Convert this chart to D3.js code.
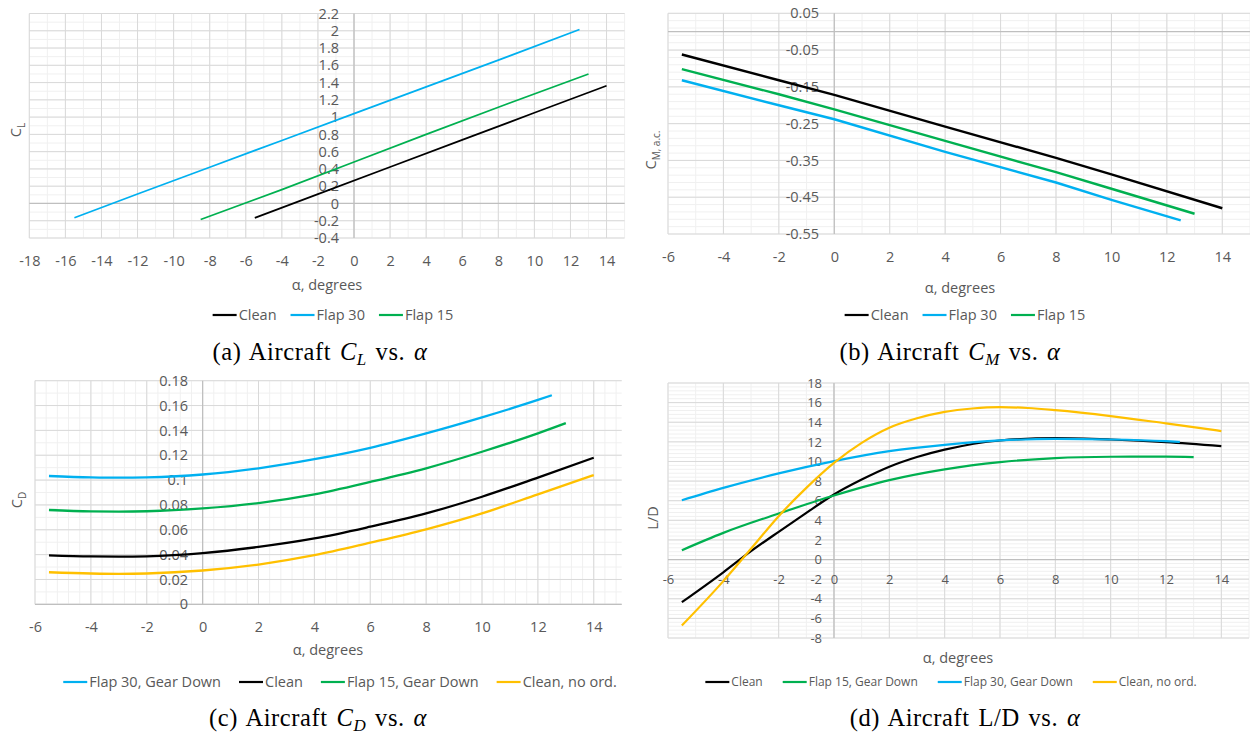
<!DOCTYPE html>
<html>
<head>
<meta charset="utf-8">
<script src="https://cdn.jsdelivr.net/npm/d3@7"></script>
<style>
  body { margin: 0; background: #fff; }
  svg { display: block; }
</style>
</head>
<body>
<svg id="fig" width="1250" height="738"></svg>
<script>
// ---------------- data ----------------
// (a) lift coefficient vs angle of attack
const clAlphaClean = [-5.5, -2, 2, 6, 10, 14];
const clClean      = [-0.167, 0.108, 0.422, 0.736, 1.05, 1.364];
const clAlphaF30   = [-15.5, -12, -8, -4, 0, 4, 8, 12.5];
const clFlap30     = [-0.165, 0.11, 0.42, 0.73, 1.04, 1.35, 1.66, 2.015];
const clAlphaF15   = [-8.5, -4, 0, 4, 8, 13];
const clFlap15     = [-0.185, 0.16, 0.48, 0.80, 1.115, 1.50];

// (b) pitching moment about the aerodynamic centre
const cmAlphaClean = [-5.5, -2, 0, 4, 8, 10, 14];
const cmClean      = [-0.062, -0.132, -0.172, -0.258, -0.343, -0.388, -0.48];
const cmAlphaF30   = [-5.5, -2, 0, 4, 8, 10, 12.5];
const cmFlap30     = [-0.132, -0.2, -0.238, -0.327, -0.41, -0.457, -0.513];
const cmAlphaF15   = [-5.5, -2, 0, 4, 8, 10, 13];
const cmFlap15     = [-0.102, -0.17, -0.211, -0.297, -0.382, -0.427, -0.495];

// (c) drag coefficient
const cdAlphaF30     = [-5.5, -4, -3, -2, 0, 2, 4, 6, 8, 10, 12, 12.5];
const cdFlap30       = [0.1033, 0.1022, 0.1019, 0.1022, 0.1045, 0.1095, 0.1168, 0.126, 0.1376, 0.1505, 0.1645, 0.1683];
const cdAlphaClean   = [-5.5, -4, -3, -2, 0, 2, 4, 6, 8, 10, 12, 14];
const cdClean        = [0.0394, 0.0385, 0.0383, 0.0386, 0.0412, 0.0462, 0.053, 0.0625, 0.0732, 0.0866, 0.102, 0.118];
const cdAlphaF15     = [-5.5, -4, -3, -2, 0, 2, 4, 6, 8, 10, 12, 13];
const cdFlap15       = [0.0759, 0.0748, 0.0746, 0.0749, 0.0772, 0.0815, 0.0885, 0.0985, 0.1095, 0.1228, 0.1376, 0.1458];
const cdAlphaNoOrd   = [-5.5, -4, -3, -2, 0, 2, 4, 6, 8, 10, 12, 14];
const cdCleanNoOrd   = [0.0258, 0.0248, 0.0245, 0.0248, 0.0272, 0.032, 0.0395, 0.0496, 0.0604, 0.0732, 0.0885, 0.104];

// (d) lift-to-drag ratio
const ldAlphaClean = [-5.5, -4, -3, -2, -1, 0, 1, 2, 3, 4, 6, 8, 10, 12, 14];
const ldClean      = [-4.35, -1.3, 0.85, 2.83, 4.76, 6.63, 8.15, 9.46, 10.45, 11.2, 12.14, 12.38, 12.24, 11.97, 11.56];
const ldAlphaF15   = [-5.5, -4, -2, 0, 2, 4, 6, 8, 10, 12, 13];
const ldFlap15     = [0.95, 2.72, 4.69, 6.53, 8.1, 9.2, 9.93, 10.34, 10.48, 10.5, 10.45];
const ldAlphaF30   = [-5.5, -4, -2, 0, 2, 4, 6, 8, 10, 12, 12.5];
const ldFlap30     = [6.05, 7.31, 8.78, 10.03, 11.05, 11.7, 12.14, 12.3, 12.24, 12.07, 12.0];
const ldAlphaNoOrd = [-5.5, -4, -3, -2, -1, 0, 1, 2, 3, 4, 5, 6, 7, 8, 10, 12, 14];
const ldCleanNoOrd = [-6.73, -2.2, 1.1, 4.42, 7.31, 9.86, 11.9, 13.44, 14.4, 15.05, 15.4, 15.54, 15.45, 15.23, 14.63, 13.88, 13.1];

// tick labels
const alphaTicksA = d3.range(-18, 15, 2);
const alphaTicks  = d3.range(-6, 15, 2);
const clTicks     = d3.range(-0.4, 2.21, 0.2);
const cmTicks     = d3.range(-0.55, 0.06, 0.1);
const cdTicks     = d3.range(0, 0.181, 0.02);
const ldTicks     = d3.range(-8, 18.1, 2);

// ---------------- styling ----------------
const COL = { black: "#000000", blue: "#00B0F0", green: "#00B050", gold: "#FFC000" };
const TEXT = "#595959";
const FONT = "'Open Sans', 'Noto Sans', sans-serif";
const SERIF = "'Liberation Serif', 'DejaVu Serif', serif";

const svg = d3.select("#fig");
svg.append("rect").attr("width", 1250).attr("height", 738).attr("fill", "#fff");

const fmt = d => String(+d.toFixed(3));
const pairs = (xs, ys) => xs.map((a, i) => [a, ys[i]]);

function drawPanel(c) {
  const g = svg.append("g");
  const x = d3.scaleLinear().domain(c.xDomain).range([c.left, c.right]);
  const y = d3.scaleLinear().domain(c.yDomain).range([c.bottom, c.top]);

  const vLines = (step, color) => {
    g.append("g").selectAll("line")
      .data(d3.range(c.xDomain[0], c.xDomain[1] + step * 0.01, step))
      .join("line")
      .attr("x1", d => x(d)).attr("x2", d => x(d))
      .attr("y1", c.top).attr("y2", c.bottom)
      .attr("stroke", color).attr("stroke-width", 1);
  };
  const hLines = (step, color) => {
    const n = Math.round((c.yDomain[1] - c.yDomain[0]) / step);
    g.append("g").selectAll("line")
      .data(d3.range(0, n + 1).map(i => c.yDomain[0] + i * step))
      .join("line")
      .attr("x1", c.left).attr("x2", c.right)
      .attr("y1", d => y(d)).attr("y2", d => y(d))
      .attr("stroke", color).attr("stroke-width", 1);
  };
  // minor then major gridlines
  vLines(c.xMinor, "#f0f0f0");
  hLines(c.yMinor, "#f0f0f0");
  vLines(c.xMajor, "#d9d9d9");
  hLines(c.yMajor, "#d9d9d9");

  // axis lines through the origin
  g.append("line").attr("x1", x(0)).attr("x2", x(0)).attr("y1", c.top).attr("y2", c.bottom)
    .attr("stroke", "#bfbfbf").attr("stroke-width", 1.2);
  g.append("line").attr("x1", c.left).attr("x2", c.right).attr("y1", y(0)).attr("y2", y(0))
    .attr("stroke", "#bfbfbf").attr("stroke-width", 1.2);

  // tick labels
  const yAx = g.append("g").attr("transform", `translate(${c.yLabelX},0)`)
    .call(d3.axisLeft(y).tickValues(c.yTicks).tickSize(0).tickPadding(0).tickFormat(fmt));
  const xAx = g.append("g").attr("transform", `translate(0,${c.xLabelY})`)
    .call(d3.axisBottom(x).tickValues(c.xTicks).tickSize(0).tickPadding(0).tickFormat(fmt));
  [yAx, xAx].forEach(a => {
    a.select(".domain").remove();
    a.selectAll("text").attr("fill", TEXT).style("font-family", FONT)
      .style("font-size", (c.tickSize || 14.5) + "px");
  });

  // axis titles
  g.append("text").attr("x", c.xTitle[0]).attr("y", c.xTitle[1]).attr("dy", "0.35em")
    .attr("text-anchor", "middle").attr("fill", TEXT)
    .style("font-family", FONT).style("font-size", "14.5px").text("α, degrees");
  const yt = g.append("text")
    .attr("transform", `translate(${c.yTitle[0]},${c.yTitle[1]}) rotate(-90)`)
    .attr("dy", "0.35em").attr("text-anchor", "middle").attr("fill", TEXT)
    .style("font-family", FONT).style("font-size", "14.5px");
  yt.append("tspan").text(c.yName[0]);
  if (c.yName[1]) {
    yt.append("tspan").attr("dy", 4).style("font-size", "10px").text(c.yName[1]);
  }

  // series
  const line = d3.line().x(d => x(d[0])).y(d => y(d[1])).curve(c.curve || d3.curveLinear);
  c.series.forEach(s => {
    g.append("path").datum(pairs(s.xs, s.ys)).attr("d", line)
      .attr("fill", "none").attr("stroke", s.color).attr("stroke-width", c.lw)
      .attr("stroke-linejoin", "round").attr("stroke-linecap", "butt");
  });

  // legend, centred under the plot
  const lg = g.append("g");
  let cursor = 0;
  c.legendOrder.forEach(i => {
    const s = c.series[i];
    const it = lg.append("g").attr("transform", `translate(${cursor},0)`);
    it.append("line").attr("x1", 0).attr("x2", 24).attr("y1", 0).attr("y2", 0)
      .attr("stroke", s.color).attr("stroke-width", 2.2);
    const t = it.append("text").attr("x", 26).attr("dy", "0.35em").attr("fill", TEXT)
      .style("font-family", FONT).style("font-size", (c.legendSize || 14.5) + "px").text(s.name);
    cursor += 26 + t.node().getComputedTextLength() + c.legendGap;
  });
  const total = cursor - c.legendGap;
  lg.attr("transform", `translate(${c.legendCenter - total / 2},${c.legendY})`);

  // caption
  const cap = g.append("text").attr("x", c.caption.x).attr("y", c.caption.y)
    .attr("text-anchor", "middle").attr("fill", "#000")
    .style("font-family", SERIF).style("font-size", "24.5px")
    .style("letter-spacing", "0.6px").style("word-spacing", "2px");
  cap.append("tspan").text(c.caption.pre);
  if (c.caption.sym) {
    cap.append("tspan").style("font-style", "italic").text("C");
    cap.append("tspan").attr("dy", 5).style("font-style", "italic").style("font-size", "17px").text(c.caption.sym);
    cap.append("tspan").attr("dy", -5).text(" vs. ");
  } else {
    cap.append("tspan").text(" vs. ");
  }
  cap.append("tspan").style("font-style", "italic").text("α");
}

// (a) C_L vs alpha
drawPanel({
  xDomain: [-18, 15], yDomain: [-0.4, 2.2],
  left: 29.3, right: 624.6, top: 13.5, bottom: 238,
  xMajor: 2, xMinor: 1, yMajor: 0.2, yMinor: 0.1,
  xTicks: alphaTicksA, yTicks: clTicks,
  yLabelX: 339, xLabelY: 255.5,
  xTitle: [327, 285], yTitle: [16, 130], yName: ["C", "L"],
  lw: 1.7,
  series: [
    { name: "Clean",   color: COL.black, xs: clAlphaClean, ys: clClean },
    { name: "Flap 30", color: COL.blue,  xs: clAlphaF30,   ys: clFlap30 },
    { name: "Flap 15", color: COL.green, xs: clAlphaF15,   ys: clFlap15 }
  ],
  legendOrder: [0, 1, 2], legendY: 315, legendCenter: 333, legendGap: 14,
  caption: { x: 320, y: 360, pre: "(a) Aircraft ", sym: "L" }
});

// (b) C_M vs alpha
drawPanel({
  xDomain: [-6, 15], yDomain: [-0.55, 0.05],
  left: 668, right: 1250, top: 13.3, bottom: 234,
  xMajor: 2, xMinor: 1, yMajor: 0.1, yMinor: 0.02,
  xTicks: alphaTicks, yTicks: cmTicks,
  yLabelX: 819, xLabelY: 251.5,
  xTitle: [960, 288], yTitle: [651, 150], yName: ["C", "M, a.c."],
  lw: 2.4,
  series: [
    { name: "Clean",   color: COL.black, xs: cmAlphaClean, ys: cmClean },
    { name: "Flap 30", color: COL.blue,  xs: cmAlphaF30,   ys: cmFlap30 },
    { name: "Flap 15", color: COL.green, xs: cmAlphaF15,   ys: cmFlap15 }
  ],
  legendOrder: [0, 1, 2], legendY: 315, legendCenter: 965, legendGap: 14,
  caption: { x: 950, y: 360, pre: "(b) Aircraft ", sym: "M" }
});

// (c) C_D vs alpha
drawPanel({
  xDomain: [-6, 15], yDomain: [0, 0.18],
  left: 35, right: 621.7, top: 380.7, bottom: 604.3,
  xMajor: 2, xMinor: 0.4, yMajor: 0.02, yMinor: 0.01,
  xTicks: alphaTicks, yTicks: cdTicks,
  yLabelX: 188, xLabelY: 621.5,
  xTitle: [328, 650], yTitle: [17, 500], yName: ["C", "D"],
  lw: 2.3, curve: d3.curveMonotoneX,
  series: [
    { name: "Flap 30, Gear Down", color: COL.blue,  xs: cdAlphaF30,   ys: cdFlap30 },
    { name: "Clean",              color: COL.black, xs: cdAlphaClean, ys: cdClean },
    { name: "Flap 15, Gear Down", color: COL.green, xs: cdAlphaF15,   ys: cdFlap15 },
    { name: "Clean, no ord.",     color: COL.gold,  xs: cdAlphaNoOrd, ys: cdCleanNoOrd }
  ],
  legendOrder: [0, 1, 2, 3], legendY: 682, legendCenter: 340, legendGap: 18,
  caption: { x: 318, y: 726, pre: "(c) Aircraft ", sym: "D" }
});

// (d) L/D vs alpha
drawPanel({
  xDomain: [-6, 15], yDomain: [-8, 18],
  left: 668, right: 1249, top: 383, bottom: 638,
  xMajor: 2, xMinor: 1, yMajor: 2, yMinor: 0.4,
  xTicks: alphaTicks, yTicks: ldTicks,
  yLabelX: 822, xLabelY: 575, tickSize: 13,
  xTitle: [958, 658], yTitle: [653, 518], yName: ["L/D"],
  lw: 2.2, curve: d3.curveMonotoneX,
  series: [
    { name: "Clean",              color: COL.black, xs: ldAlphaClean, ys: ldClean },
    { name: "Flap 15, Gear Down", color: COL.green, xs: ldAlphaF15,   ys: ldFlap15 },
    { name: "Flap 30, Gear Down", color: COL.blue,  xs: ldAlphaF30,   ys: ldFlap30 },
    { name: "Clean, no ord.",     color: COL.gold,  xs: ldAlphaNoOrd, ys: ldCleanNoOrd }
  ],
  legendOrder: [0, 1, 2, 3], legendY: 682, legendCenter: 951, legendGap: 20, legendSize: 12,
  caption: { x: 965, y: 726, pre: "(d) Aircraft L/D" }
});
</script>
</body>
</html>
